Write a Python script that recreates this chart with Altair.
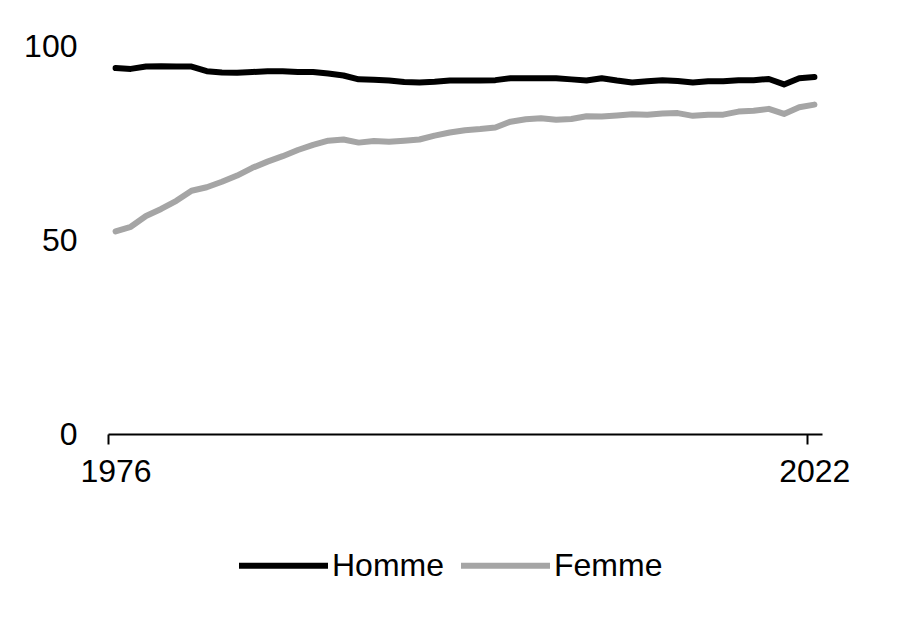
import altair as alt
import pandas as pd

years = list(range(1976, 2023))
homme = [94.3, 94.1, 94.7, 94.8, 94.7, 94.7, 93.5, 93.2, 93.1, 93.3,
         93.5, 93.5, 93.3, 93.3, 92.9, 92.4, 91.4, 91.3, 91.1, 90.7,
         90.6, 90.8, 91.1, 91.1, 91.1, 91.2, 91.7, 91.7, 91.7, 91.7,
         91.4, 91.1, 91.7, 91.1, 90.6, 90.9, 91.2, 91.0, 90.6, 90.9,
         90.9, 91.2, 91.2, 91.5, 90.1, 91.7, 92.0]
femme = [52.2, 53.4, 56.2, 58.0, 60.1, 62.7, 63.6, 65.0, 66.6, 68.6,
         70.2, 71.6, 73.2, 74.5, 75.6, 75.9, 75.1, 75.5, 75.3, 75.6,
         75.9, 76.9, 77.7, 78.3, 78.6, 79.0, 80.5, 81.1, 81.4, 81.0,
         81.2, 81.9, 81.8, 82.1, 82.4, 82.3, 82.6, 82.7, 82.0, 82.3,
         82.3, 83.1, 83.3, 83.8, 82.5, 84.2, 84.9]
series = ["Homme", "Femme"]
colors = ["#000000", "#A5A5A5"]
x_ticks = [1976, 2022]
y_ticks = [0, 50, 100]

df = pd.DataFrame({
    "annee": years * 2,
    "valeur": homme + femme,
    "serie": ["Homme"] * len(years) + ["Femme"] * len(years),
})

FONT = "Liberation Sans"
FS = 32

chart = alt.Chart(df).transform_calculate(
    xpos="datum.annee + 0.5"
).mark_line(strokeWidth=6, strokeCap="round", strokeJoin="round").encode(
    x=alt.X("xpos:Q",
            scale=alt.Scale(domain=[1976, 2023], nice=False, zero=False),
            axis=alt.Axis(values=x_ticks, format="d", title=None, grid=False,
                          domainColor="black", domainWidth=2,
                          tickColor="black", tickWidth=2, tickSize=10,
                          labelFontSize=FS, labelFont=FONT, labelColor="black",
                          labelPadding=12, labelFlush=False, labelOffset=7.5)),
    y=alt.Y("valeur:Q",
            scale=alt.Scale(domain=[0, 100], nice=False),
            axis=alt.Axis(values=y_ticks, title=None, grid=False, domain=False,
                          ticks=False, labelFontSize=FS, labelFont=FONT,
                          labelColor="black", labelPadding=31)),
    color=alt.Color("serie:N",
                    scale=alt.Scale(domain=series, range=colors),
                    sort=series,
                    legend=alt.Legend(orient="none", direction="horizontal",
                                      legendX=128, legendY=472, padding=0,
                                      title=None, symbolType="stroke",
                                      symbolSize=7921, symbolStrokeWidth=6,
                                      labelFontSize=FS, labelFont=FONT,
                                      labelColor="black", labelOffset=1,
                                      columnPadding=4)),
).properties(
    width=714,
    height=388,
    padding={"left": 15, "top": 22, "right": 10, "bottom": 10},
).configure_view(stroke=None)

chart.save("out.html", embed_options={"renderer": "svg", "actions": False})
